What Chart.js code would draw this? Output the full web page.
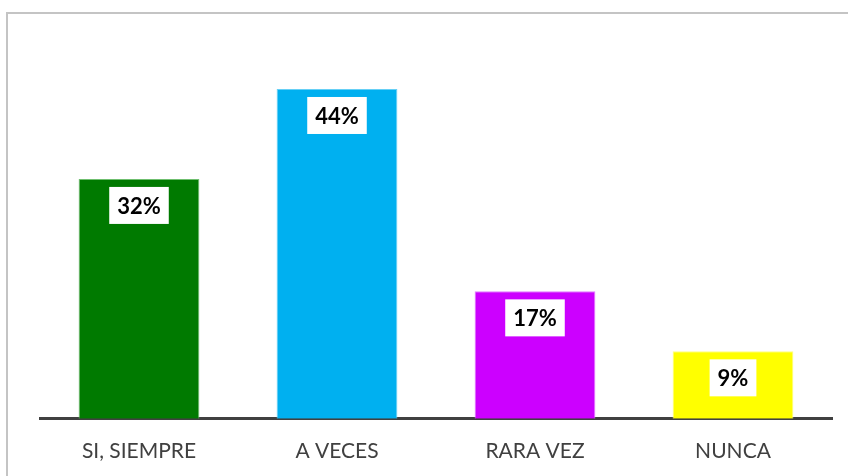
<!DOCTYPE html>
<html>
<head>
<meta charset="utf-8">
<script src="https://cdn.jsdelivr.net/npm/chart.js@4"></script>
<style>
    body { margin: 0; background: #fff; }
    #wrap { position: relative; width: 848px; height: 476px; overflow: hidden; }
    #frame { position: absolute; left: 6px; top: 12px; width: 900px; height: 500px; border: 2px solid #c4c4c4; box-sizing: border-box; }
    #grafico { position: absolute; left: 0; top: 0; }
</style>
</head>
<body>
<div id="wrap">
    <div id="frame"></div>
    <canvas id="grafico" width="848" height="476"></canvas>
</div>
<script>
// datos
const categorias = ['SI, SIEMPRE', 'A VECES', 'RARA VEZ', 'NUNCA'];
const porcentajes = [32, 44, 17, 9];
const colores = ['#007a00', '#00b0f0', '#cc00ff', '#ffff00'];
const bordes = ['#6fbf6f', '#66d0f6', '#e07cff', '#ffff80'];

// etiqueta blanca dentro de cada barra
const etiquetas = {
    id: 'etiquetas',
    afterDatasetsDraw(chart) {
        const ctx = chart.ctx;
        const meta = chart.getDatasetMeta(0);
        ctx.save();
        ctx.font = 'bold 22px Lato, "Noto Sans", sans-serif';
        ctx.textAlign = 'center';
        ctx.textBaseline = 'middle';
        meta.data.forEach((bar, i) => {
            const txt = porcentajes[i] + '%';
            const w = ctx.measureText(txt).width + 16;
            const h = 37;
            const cy = bar.y + 8 + h / 2;
            ctx.fillStyle = '#fff';
            ctx.fillRect(bar.x - w / 2, cy - h / 2, w, h);
            ctx.fillStyle = '#000';
            ctx.fillText(txt, bar.x, cy + 1);
        });
        ctx.restore();
    }
};

new Chart(document.getElementById('grafico'), {
    type: 'bar',
    data: {
        labels: categorias,
        datasets: [{
            data: porcentajes,
            backgroundColor: colores,
            borderColor: bordes,
            borderWidth: 1,
            categoryPercentage: 1,
            barPercentage: 0.61
        }]
    },
    options: {
        responsive: false,
        animation: false,
        layout: { padding: { left: 40, right: 16, top: 44, bottom: 0 } },
        plugins: { legend: { display: false }, tooltip: { enabled: false } },
        scales: {
            y: { display: false, min: 0, max: 50 },
            x: {
                grid: { display: false },
                border: { color: '#404040', width: 3 },
                ticks: {
                    color: '#404040',
                    padding: 12,
                    font: { family: 'Lato, "Noto Sans", sans-serif', size: 21 }
                }
            }
        }
    },
    plugins: [etiquetas]
});
</script>
</body>
</html>
